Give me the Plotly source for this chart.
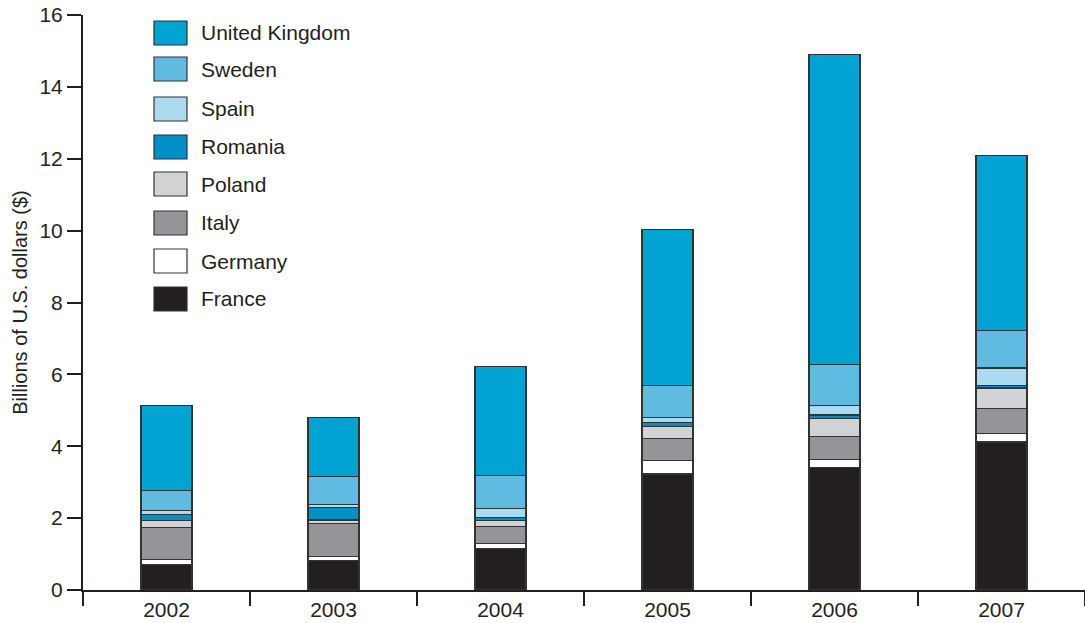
import plotly.graph_objects as go

years = ["2002", "2003", "2004", "2005", "2006", "2007"]
countries = ["France", "Germany", "Italy", "Poland", "Romania", "Spain", "Sweden", "United Kingdom"]

france = [0.72, 0.82, 1.16, 3.23, 3.41, 4.12]
germany = [0.13, 0.12, 0.13, 0.38, 0.23, 0.23]
italy = [0.88, 0.91, 0.48, 0.60, 0.64, 0.71]
poland = [0.21, 0.10, 0.17, 0.35, 0.50, 0.56]
romania = [0.15, 0.34, 0.07, 0.11, 0.09, 0.08]
spain = [0.13, 0.10, 0.26, 0.13, 0.27, 0.48]
sweden = [0.55, 0.77, 0.92, 0.88, 1.13, 1.03]
uk = [2.36, 1.65, 3.04, 4.36, 8.64, 4.89]

series = [france, germany, italy, poland, romania, spain, sweden, uk]
colors = ["#231f20", "#ffffff", "#939598", "#d1d3d4", "#0090c8", "#acdbef", "#60bbe0", "#00a3d1"]

FONT = "Liberation Sans, Arial, sans-serif"
fig = go.Figure()
for name, vals, col in zip(countries, series, colors):
    fig.add_trace(go.Bar(
        x=years, y=vals, name=name,
        marker=dict(color=col, line=dict(color="#333333", width=1.2)),
        showlegend=False,
    ))

W, H = 1085, 623
ml, mr, mt, mb = 83, 0, 15, 33
pw, ph = W - ml - mr, H - mt - mb

# screen-pixel helpers (plot area spans x 83..1085, y 15..590)
def px(x):
    return (x - ml) / pw

def py(y):
    return (H - mb - y) / ph

legend_centers = [33, 69, 109, 147, 184, 223, 261, 299]
for (name, col), cy in zip(list(zip(countries, colors))[::-1], legend_centers):
    fig.add_shape(type="rect", xref="paper", yref="paper",
                  x0=px(154), x1=px(187), y0=py(cy - 12), y1=py(cy + 12),
                  fillcolor=col, line=dict(color="#333333", width=1.2))
    fig.add_annotation(x=px(199), y=py(cy), xref="paper", yref="paper",
                       text=name, showarrow=False, xanchor="left", yanchor="middle",
                       font=dict(size=21, color="#231f20", family=FONT))

fig.update_layout(
    barmode="stack",
    bargap=0.695,
    width=W, height=H,
    margin=dict(l=ml, r=mr, t=mt, b=mb, autoexpand=False),
    plot_bgcolor="white", paper_bgcolor="white",
    font=dict(family=FONT, size=21, color="#231f20"),
)
fig.update_xaxes(
    showline=True, linecolor="#231f20", linewidth=2,
    ticks="outside", tickson="boundaries", ticklen=14, tickwidth=1.5, tickcolor="#231f20",
    showgrid=False, tickfont=dict(size=21), automargin=False,
)
fig.update_yaxes(
    range=[0, 16], dtick=2, showline=True, linecolor="#231f20", linewidth=2,
    ticks="outside", ticklen=14, tickwidth=1.5, tickcolor="#231f20",
    showgrid=False, zeroline=False, tickfont=dict(size=21),
    ticklabeloverflow="allow", automargin=False,
    title=dict(text="Billions of U.S. dollars ($)", font=dict(size=20), standoff=6),
)

fig.write_html("out.html", config={"displayModeBar": False},
               post_script="document.body.style.margin='0px';")
